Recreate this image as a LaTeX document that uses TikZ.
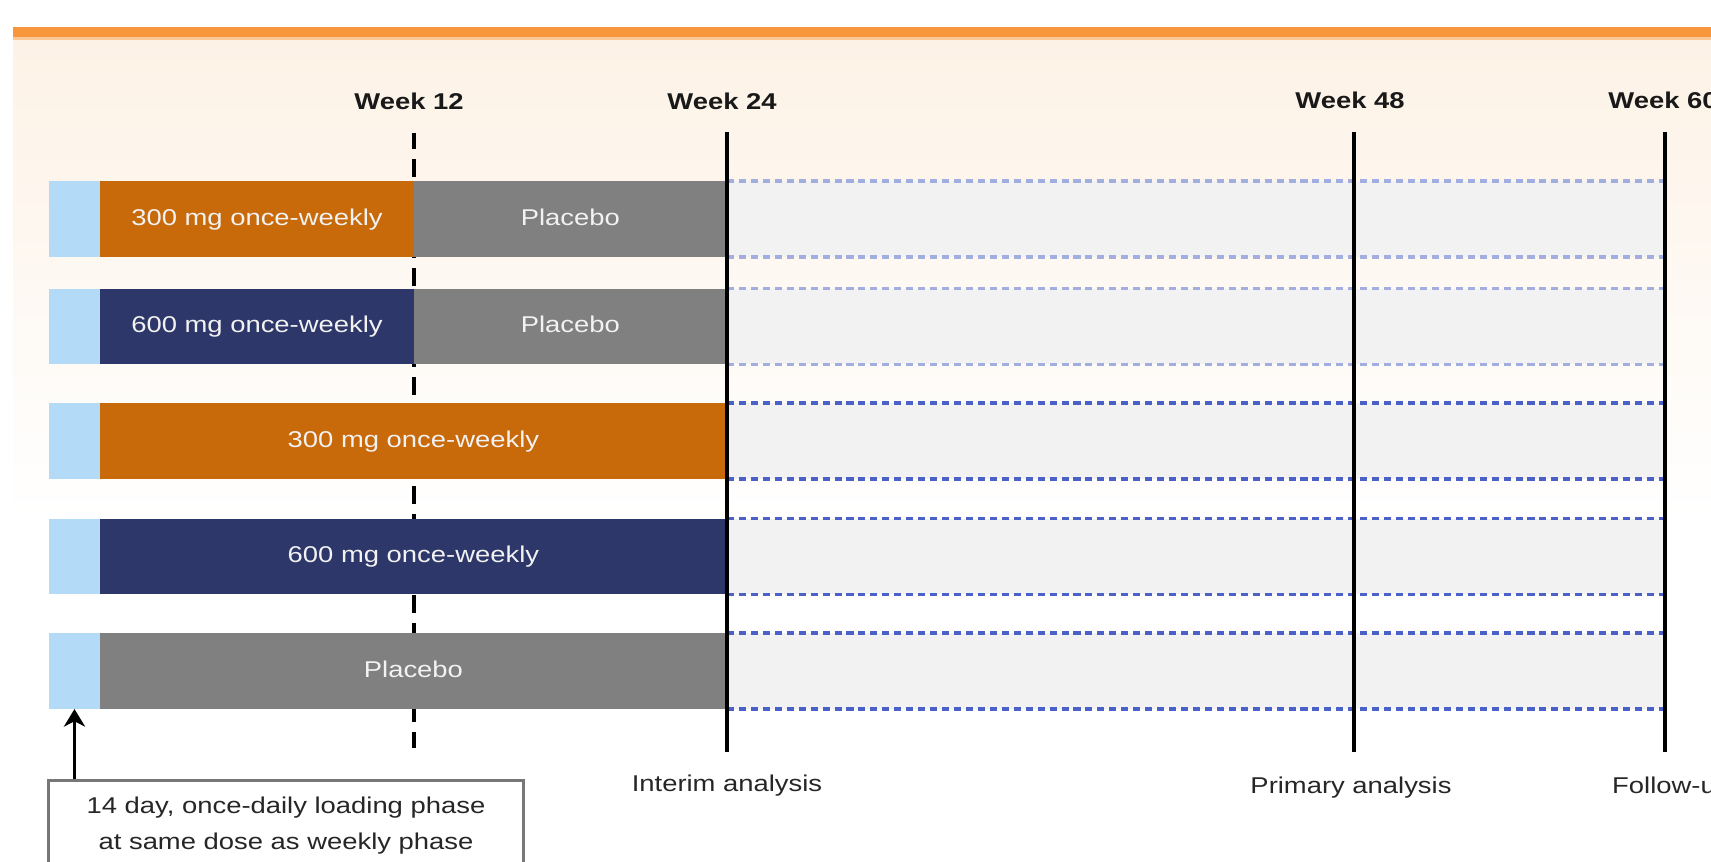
\documentclass[tikz,border=0pt]{standalone}
\usepackage{fontspec}
\setmainfont{Liberation Sans}[FakeStretch=1.2]
\usetikzlibrary{positioning, arrows.meta}

\definecolor{topbar}{HTML}{F7963A}
\definecolor{topline}{HTML}{FCC996}
\definecolor{bgpeach}{HTML}{FDF2E6}
\definecolor{armorange}{HTML}{C8690A}
\definecolor{armnavy}{HTML}{2D3769}
\definecolor{armgray}{HTML}{808080}
\definecolor{leadblue}{HTML}{B3DAF7}
\definecolor{extgray}{HTML}{F2F2F2}
\definecolor{dashlight}{HTML}{A3AEE0}
\definecolor{dashdark}{HTML}{4A62C8}
\definecolor{boxgray}{HTML}{777777}
\definecolor{barwhite}{HTML}{F2F2F2}

\begin{document}
\begin{tikzpicture}[
		x=0.02cm, y=-0.02cm,
		bar/.style={anchor=west, minimum height=1.52cm, inner sep=0pt, outer sep=0pt, text=barwhite, text height=0.72em, text depth=0pt, font=\fontsize{13}{15}\selectfont},
		week/.style={font=\bfseries\fontsize{13}{15}\selectfont, text=black!90},
		milestone/.style={font=\fontsize{13}{15}\selectfont, text=black!85},
		timeline/.style={line width=2.2pt},
		gapline/.style={line width=2pt, dash pattern=on 4pt off 2.8pt},
		loadbox/.style={draw=boxgray, line width=1.5pt, fill=white, anchor=north, minimum width=9.5cm, minimum height=1.8cm, align=center, text=black!85, font=\fontsize{13}{20.5}\selectfont},
		loadarrow/.style={-{Stealth[length=10pt, width=12pt, inset=3pt]}, line width=2.2pt}
		]
		\clip (0,0) rectangle (1711,862);
		% Header band
		\fill[topbar] (13,27) rectangle (1711,37);
		\fill[topline] (13,37) rectangle (1711,40);
		\shade[top color=bgpeach, bottom color=white] (13,40) rectangle (1711,520);
		
		% Week 12 switch (behind the arms)
		\coordinate (top12) at (413.6,133);
		\coordinate (bot12) at (413.6,754);
		\draw[timeline, dash pattern=on 9pt off 6pt on 10pt off 6pt] (top12) -- (bot12);
		
		% Loading phase and extension per row
		\foreach \y/\dc [count=\i] in {219/dashlight, 326.5/dashlight, 441/dashdark, 556.5/dashdark, 671/dashdark}{
			\node[bar, fill=leadblue, minimum width=1.02cm] (lead\i) at (49,\y) {};
			\node[bar, fill=extgray, minimum width=18.76cm] (ext\i) at (727,\y) {};
			\draw[gapline, draw=\dc] (ext\i.north west) -- (ext\i.north east);
			\draw[gapline, draw=\dc] (ext\i.south west) -- (ext\i.south east);
		}
		
		% Treatment arms
		\node[bar, fill=armorange, minimum width=6.28cm, right=0pt of lead1] (dose1) {300 mg once-weekly};
		\node[bar, fill=armgray, minimum width=6.26cm, right=0pt of dose1] (pbo1) {Placebo};
		\node[bar, fill=armnavy, minimum width=6.28cm, right=0pt of lead2] (dose2) {600 mg once-weekly};
		\node[bar, fill=armgray, minimum width=6.26cm, right=0pt of dose2] (pbo2) {Placebo};
		\node[bar, fill=armorange, minimum width=12.54cm, right=0pt of lead3] (dose3) {300 mg once-weekly};
		\node[bar, fill=armnavy, minimum width=12.54cm, right=0pt of lead4] (dose4) {600 mg once-weekly};
		\node[bar, fill=armgray, minimum width=12.54cm, right=0pt of lead5] (pbo5) {Placebo};
		
		% Weeks
		\node[week] (wk12) at (409,101) {Week 12};
		\node[week] (wk24) at (722,101) {Week 24};
		\node[week] (wk48) at (1350,100) {Week 48};
		\node[week] (wk60) at (1663,100) {Week 60};
		
		\foreach \n/\x in {24/727, 48/1354, 60/1665}{
			\coordinate (top\n) at (\x,132);
			\coordinate (bot\n) at (\x,752);
			\draw[timeline] (top\n) -- (bot\n);
		}
		
		% Analyses
		\node[milestone] (interim) at (727,786) {Interim analysis};
		\node[milestone] (primary) at (1351,788) {Primary analysis};
		\node[milestone, anchor=west] (followup) at (1606,788) {Follow-up};
		
		% Loading phase note
		\node[loadbox] (note) at (286,779) {14 day, once-daily loading phase\\at same dose as weekly phase};
		\draw[loadarrow] (note.north -| lead5.south) -- (lead5.south);
	\end{tikzpicture}
\end{document}
